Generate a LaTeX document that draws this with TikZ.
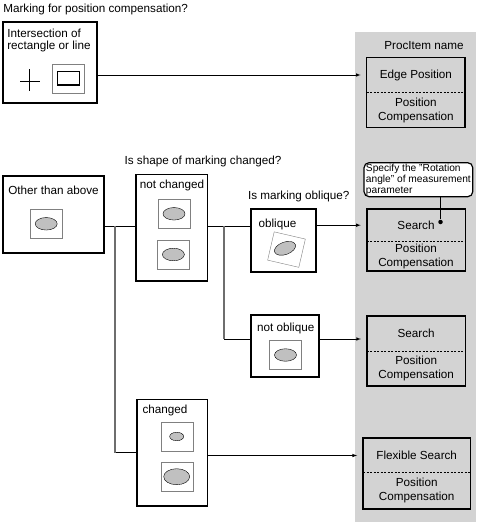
\documentclass[tikz,border=0pt]{standalone}
\usepackage{fontspec}
\setmainfont{Liberation Sans}
\usetikzlibrary{arrows,shapes.geometric}
\definecolor{panelgray}{RGB}{211,211,211}
\definecolor{wiregray}{RGB}{110,110,110}
\definecolor{markgray}{RGB}{192,192,192}
\begin{document}
\begin{tikzpicture}[semithick,x=1bp,y=-1bp,>=latex,
every node/.style={font=\fontsize{11.7bp}{14bp}\selectfont,inner sep=0pt},
boxline/.style={draw,line width=1.6bp},
pane/.style={minimum width=98bp,minimum height=34.5bp,align=center},
sq/.style={draw=gray,fill=white,thin,minimum width=32bp,minimum height=29bp},
oval/.style={ellipse,draw,fill=markgray,thin,minimum width=22bp,minimum height=12.5bp},
wire/.style={wiregray,line width=1.6bp},
divide/.style={dash pattern=on 2bp off 1.5bp,line width=1.2bp}]
\useasboundingbox(0,0)rectangle(478,525);
\fill[panelgray](355,32)rectangle(475.5,522);
\node(ask1)[anchor=west]at(3,9){Marking for position compensation?};
\node(ask2)[anchor=west]at(124.3,161){Is shape of marking changed?};
\node(ask3)[anchor=west]at(247.7,196.7){Is marking oblique?};
\node(head)at(424,46){ProcItem name};
% marking boxes
\node(crs)[boxline,minimum width=94bp,minimum height=81bp]at(50,62.5){};
\node(oth)[boxline,minimum width=101bp,minimum height=77.5bp]at(53.6,214.5){};
\node(nch)[boxline,minimum width=71.6bp,minimum height=106.7bp]at(171.5,227.7){};
\node(obl)[boxline,minimum width=64.7bp,minimum height=62.4bp]at(283.4,240.5){};
\node(nob)[boxline,minimum width=68.3bp,minimum height=61.7bp]at(284.9,345.9){};
\node(chg)[boxline,minimum width=70.6bp,minimum height=106.4bp]at(172,452.5){};
\node(crsT)[anchor=north west,align=left,font=\fontsize{11.7bp}{12.5bp}\selectfont]at(7,28.5){Intersection of\\rectangle or line};
\node(othT)at(53.5,190){Other than above};
\node(nchT)at(172,185.7){not changed};
\node(oblT)[anchor=west]at(258.3,224){oblique};
\node(nobT)at(285.7,328.3){not oblique};
\node(chgT)[anchor=west]at(142.3,410.7){changed};
\draw(20,81)--(39.5,81)(29.5,69.5)--(29.5,91);
\node(crsq)[sq]at(68,78.8){};
\node(crr)[draw,line width=1.2bp,minimum width=22.5bp,minimum height=13.3bp]at(68.6,78.4){};
\foreach \p/\q/\m in {46.2/223.8/othq,174/213.8/nchq,173.4/254.5/nchr,285.5/355/nobq}{
\node(\m)[sq]at(\p,\q){};\node(\m e)[oval]at(\m){};}
\node(oblq)[sq,rotate=-13]at(286.5,249.6){};
\node(oble)[oval,rotate=20]at(285,248.3){};
\node(chgq)[sq]at(176.7,436.5){};\node(chge)[oval,minimum width=14bp,minimum height=8.5bp]at(chgq){};
\node(chgr)[sq]at(176.7,476.7){};\node(chgf)[oval,minimum width=26bp,minimum height=16bp]at(chgr){};
% result panes
\node(ept)[pane]at(415.9,75){Edge Position};
\node(epb)[pane,anchor=north]at(ept.south){Position\\Compensation};
\node(sat)[pane,minimum height=31.7bp]at(416,225.2){Search};
\node(sab)[pane,minimum height=29.3bp,anchor=north]at(sat.south){Position\\Compensation};
\node(sbt)[pane]at(416.2,333.6){Search};
\node(sbb)[pane,anchor=north]at(sbt.south){Position\\Compensation};
\node(fxt)[pane,minimum width=106.7bp,minimum height=34bp]at(416.7,455.5){Flexible Search};
\node(fxb)[pane,minimum width=106.7bp,minimum height=35.4bp,anchor=north]at(fxt.south){Position\\Compensation};
\foreach \n in {ep,sa,sb,fx}{\draw[boxline](\n t.north west)rectangle(\n b.south east);
\draw[divide](\n t.south west)--(\n t.south east);}
\node(note)[draw,rounded corners=5bp,line width=1.2bp,fill=white,minimum width=108.7bp,minimum height=34bp,align=left,font=\fontsize{10.2bp}{11bp}\selectfont]at(418.4,179.7){Specify the "Rotation\\angle" of measurement\\parameter};
\node(pin)[circle,fill,minimum size=4.5bp]at(440.5,222){};
\draw[line width=1.2bp](note.south-|pin)--(pin);
% connectors
\coordinate(j1)at(115,226);\coordinate(j2)at(224,226);\coordinate(j3)at(224,339);
\draw(oth.east|-j1)--(nch.west|-j1)(j1|-chg.west)--(chg.west);
\draw(nch.east|-j2)--(obl.west|-j2)(j3)--(nob.west|-j3);
\draw[wire](j1)--(j1|-chg.west)(j2)--(j3);
\draw[->,shorten >=6bp](crs.east|-ept.west)--(ept.west);
\draw[->,shorten >=6bp](obl.east|-sat.west)--(sat.west);
\draw[->,shorten >=6bp](nob.east|-j3)--(j3-|sbt.west);
\draw[->,shorten >=6bp](chg.east|-fxt.west)--(fxt.west);
\end{tikzpicture}
\end{document}
